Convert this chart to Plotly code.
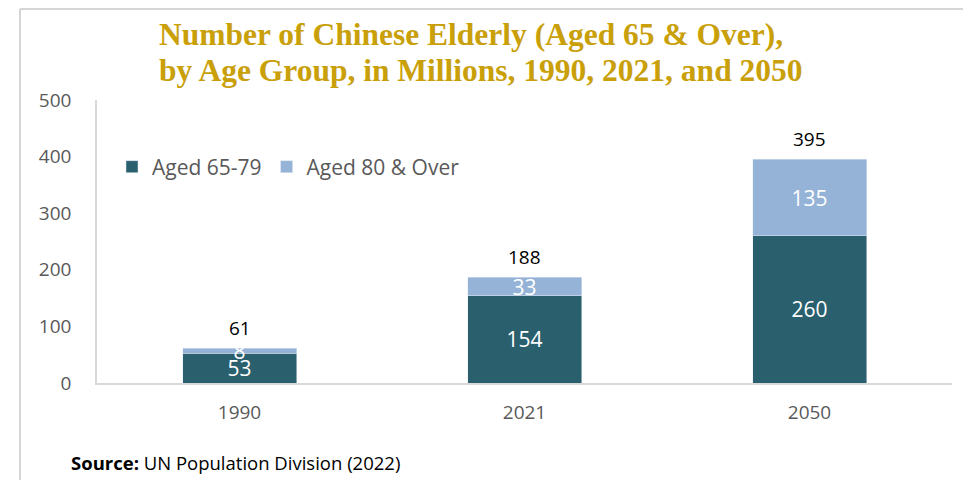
import plotly.graph_objects as go

years = ["1990", "2021", "2050"]
aged_65_79 = [53, 154, 260]
aged_80_over = [8, 33, 135]
totals = [61, 188, 395]
series_names = ["Aged 65-79", "Aged 80 & Over"]
y_ticks = [0, 100, 200, 300, 400, 500]
title_lines = ["Number of Chinese Elderly (Aged 65 & Over),",
               "by Age Group, in Millions, 1990, 2021, and 2050"]
source_text = "<b>Source:</b> UN Population Division (2022)"

FONT = "Open Sans"
DARK = "#2A5F6E"
LIGHT = "#95B3D7"
GRAY = "#595959"
GOLD = "#C9A009"

# the page body has an 8px default margin, so work in shifted pixels
OFF = 8
W, H = 971 - OFF, 480 - OFF
L, T = 97 - OFF, 100 - OFF
R = W - (952 - OFF)
B = H - (383 - OFF)
PW, PH = W - L - R, H - T - B


def px(x):
    return (x - OFF - L) / PW


def py(y):
    return (H - B - (y - OFF)) / PH


fig = go.Figure()
fig.add_trace(go.Bar(
    x=years, y=aged_65_79, name=series_names[0], marker_color=DARK,
    text=[str(v) for v in aged_65_79], textposition="inside", textangle=0,
    insidetextanchor="middle", textfont=dict(color="white", size=21, family=FONT),
))
fig.add_trace(go.Bar(
    x=years, y=aged_80_over, name=series_names[1], marker_color=LIGHT,
    text=[str(v) for v in aged_80_over], textposition="inside", textangle=0,
    insidetextanchor="middle", textfont=dict(color="white", size=21, family=FONT),
))

# totals above the stacks (x given as category index: numeric-looking
# category names would otherwise be read as indices)
for i, tot in enumerate(totals):
    fig.add_annotation(x=i, y=tot, text=str(tot), showarrow=False,
                       yanchor="bottom", yshift=5,
                       font=dict(size=19, color="black", family=FONT))

fig.add_annotation(xref="paper", yref="paper", x=px(69), y=py(462),
                   xanchor="left", yanchor="middle", showarrow=False,
                   text=source_text,
                   font=dict(size=18.5, color="black", family=FONT))

# title, one annotation per line
for line, ycen in zip(title_lines, [35, 71]):
    fig.add_annotation(xref="paper", yref="paper", x=px(157), y=py(ycen),
                       xanchor="left", yanchor="middle", showarrow=False,
                       text="<b>" + line + "</b>",
                       font=dict(family="Liberation Serif", size=31.5, color=GOLD))

# frame lines (left and top)
fig.add_shape(type="line", xref="paper", yref="paper",
              x0=px(20), x1=px(20), y0=py(9), y1=py(490),
              line=dict(color="#C8C8C8", width=1.5))
fig.add_shape(type="line", xref="paper", yref="paper",
              x0=px(20), x1=px(990), y0=py(9), y1=py(9),
              line=dict(color="#C8C8C8", width=1.5))

fig.update_layout(
    width=W, height=H,
    barmode="stack", bargap=0.6,
    margin=dict(l=L, r=R, t=T, b=B, autoexpand=False),
    paper_bgcolor="white", plot_bgcolor="white",
    legend=dict(orientation="h", x=px(112), y=py(167), xanchor="left", yanchor="middle",
                font=dict(size=21, color=GRAY, family=FONT), bgcolor="rgba(0,0,0,0)",
                traceorder="normal"),
    uniformtext=dict(minsize=21, mode="show"),
    showlegend=True,
)
fig.update_xaxes(type="category", showline=True, linecolor="#D9D9D9", linewidth=1.5, ticks="",
                 tickfont=dict(size=19, color=GRAY, family=FONT),
                 ticklabelstandoff=11, showgrid=False)
fig.update_yaxes(range=[0, 500], tickvals=y_ticks, showline=True, linecolor="#D9D9D9",
                 linewidth=1.5, showgrid=False, zeroline=False, ticks="",
                 tickfont=dict(size=19, color=GRAY, family=FONT),
                 ticklabelstandoff=20)

fig.write_html("out.html")
